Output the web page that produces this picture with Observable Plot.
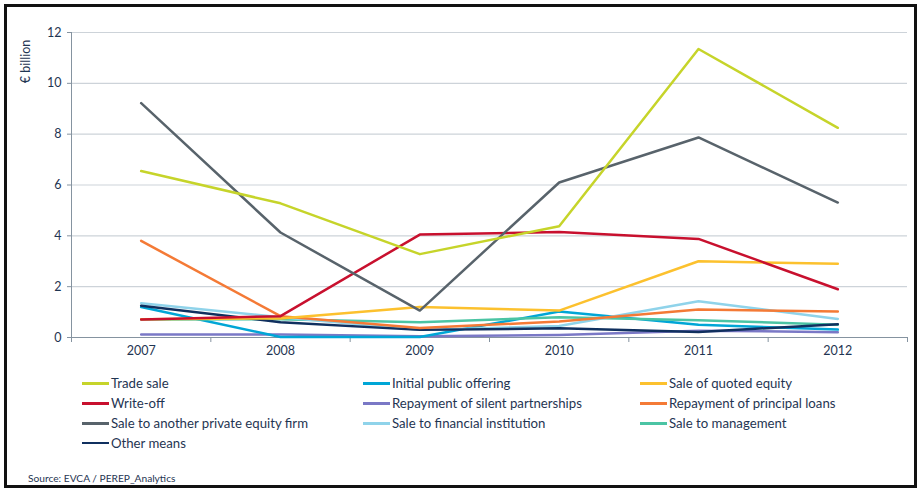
<!DOCTYPE html>
<html>
<head>
<meta charset="utf-8">
<script src="https://cdn.jsdelivr.net/npm/d3@7"></script>
<script src="https://cdn.jsdelivr.net/npm/@observablehq/plot@0.6"></script>
<style>
  html, body { margin: 0; padding: 0; background: #fff; }
  #wrap { position: relative; width: 918px; height: 488px; overflow: hidden; font-family: Lato, "Liberation Sans", sans-serif; color: #1f3552; }
  #frame { position: absolute; left: 4px; top: 4px; width: 907px; height: 478px; border: 3px solid #111; pointer-events: none; }
  #chart { position: absolute; left: 0; top: 0; }
  .lg { position: absolute; font-size: 13.2px; line-height: 14px; white-space: nowrap; display: flex; align-items: center; }
  .sw { display: inline-block; width: 27px; height: 3px; margin-right: 2px; }
  #source { position: absolute; left: 28px; top: 472px; font-size: 10.2px; line-height: 12px; }
</style>
</head>
<body>
<div id="wrap">
  <div id="chart"></div>
  <div id="legend"></div>
  <div id="source">Source: EVCA / PEREP_Analytics</div>
  <div id="frame"></div>
</div>
<script>
const years = [2007, 2008, 2009, 2010, 2011, 2012];
const yTicks = [0, 2, 4, 6, 8, 10, 12];

const seriesNames = [
  "Trade sale",
  "Initial public offering",
  "Sale of quoted equity",
  "Write-off",
  "Repayment of silent partnerships",
  "Repayment of principal loans",
  "Sale to another private equity firm",
  "Sale to financial institution",
  "Sale to management",
  "Other means"
];
const seriesColors = [
  "#c6d42a", "#00a6d6", "#fcc12e", "#c8102e", "#7a78c6",
  "#f47a36", "#58636b", "#8fd3ea", "#4bc4a4", "#10305f"
];

const tradeSale      = [6.55, 5.28, 3.28, 4.38, 11.35, 8.25];
const ipo            = [1.20, 0.02, 0.02, 1.02, 0.50, 0.31];
const quotedEquity   = [0.72, 0.75, 1.20, 1.06, 3.00, 2.90];
const writeOff       = [0.71, 0.84, 4.05, 4.15, 3.88, 1.90];
const silentPartners = [0.12, 0.12, 0.05, 0.10, 0.27, 0.21];
const principalLoans = [3.80, 0.84, 0.37, 0.63, 1.10, 1.02];
const anotherPE      = [9.22, 4.13, 1.06, 6.10, 7.87, 5.31];
const financialInst  = [1.35, 0.80, 0.30, 0.45, 1.43, 0.73];
const management     = [0.71, 0.72, 0.60, 0.80, 0.68, 0.50];
const otherMeans     = [1.25, 0.60, 0.30, 0.36, 0.22, 0.52];

const seriesValues = [tradeSale, ipo, quotedEquity, writeOff, silentPartners,
  principalLoans, anotherPE, financialInst, management, otherMeans];

const drawOrder = [4, 1, 8, 7, 9, 5, 2, 3, 6, 0];

const data = [];
for (const i of drawOrder) {
  years.forEach((yr, j) => data.push({series: seriesNames[i], year: yr, value: seriesValues[i][j]}));
}

const bounds = years.map(y => y - 0.5).concat([years[years.length - 1] + 0.5]);
const axisColor = "#8593a0";
const textColor = "#1f3552";

const chart = Plot.plot({
  width: 918,
  height: 365,
  marginLeft: 71,
  marginRight: 11,
  marginTop: 32,
  marginBottom: 28,
  style: {fontFamily: "Lato, 'Liberation Sans', sans-serif", fontSize: "12.5px", color: textColor, background: "transparent"},
  x: {domain: [bounds[0], bounds[bounds.length - 1]]},
  y: {domain: [0, 12]},
  color: {domain: seriesNames, range: seriesColors},
  marks: [
    Plot.gridY(yTicks.filter(d => d > 0), {stroke: "#cdd3d9", strokeOpacity: 1, strokeWidth: 1.2}),
    Plot.axisY({ticks: yTicks, tickSize: 4, tickPadding: 6, stroke: axisColor, label: null, fill: textColor, fontSize: 12.5}),
    Plot.ruleX([bounds[0]], {stroke: axisColor}),
    Plot.ruleY([0], {stroke: axisColor}),
    Plot.axisX({ticks: bounds, tickFormat: () => "", tickSize: 5, stroke: axisColor, label: null}),
    Plot.axisX({ticks: years, tickFormat: d => String(d), tickSize: 0, tickPadding: 9, label: null, fill: textColor, fontSize: 12.5}),
    Plot.text(["€ billion"], {frameAnchor: "top-left", rotate: -90, dx: -50, dy: 29, textAnchor: "middle", fill: textColor, fontSize: 12.5}),
    Plot.line(data, {x: "year", y: "value", z: "series", stroke: "series", strokeWidth: 2.5, curve: "linear"})
  ]
});
document.getElementById("chart").appendChild(chart);

const legendCols = [82, 363, 640];
const legendRows = [383, 403, 423, 443];
const legend = document.getElementById("legend");
seriesNames.forEach((name, i) => {
  const col = i % 3, row = Math.floor(i / 3);
  const item = document.createElement("div");
  item.className = "lg";
  item.style.left = legendCols[col] + "px";
  item.style.top = (legendRows[row] - 7) + "px";
  const sw = document.createElement("span");
  sw.className = "sw";
  sw.style.background = seriesColors[i];
  if (name === "Other means") sw.style.height = "2px";
  item.appendChild(sw);
  item.appendChild(document.createTextNode(name));
  legend.appendChild(item);
});
</script>
</body>
</html>
